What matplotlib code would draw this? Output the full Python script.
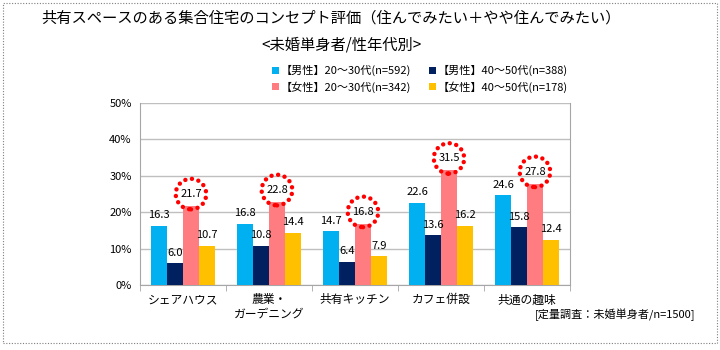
import matplotlib
matplotlib.use("Agg")
from matplotlib import pyplot as plt
from matplotlib.patches import Rectangle
import numpy as np

plt.rcParams['font.family'] = ['Noto Sans CJK JP', 'DejaVu Sans']

categories = ["シェアハウス", "農業・\nガーデニング", "共有キッチン", "カフェ併設", "共通の趣味"]
series_names = ["【男性】20～30代(n=592)", "【男性】40～50代(n=388)",
                "【女性】20～30代(n=342)", "【女性】40～50代(n=178)"]
male_young = [16.3, 16.8, 14.7, 22.6, 24.6]
male_old = [6.0, 10.8, 6.4, 13.6, 15.8]
female_young = [21.7, 22.8, 16.8, 31.5, 27.8]
female_old = [10.7, 14.4, 7.9, 16.2, 12.4]
colors = ["#00B0F0", "#002060", "#FF7C80", "#FFC000"]

title = "共有スペースのある集合住宅のコンセプト評価（住んでみたい＋やや住んでみたい）"
subtitle = "<未婚単身者/性年代別>"
source = "[定量調査：未婚単身者/n=1500]"

fig = plt.figure(figsize=(7.2, 3.5), dpi=100)
ax = fig.add_axes([140 / 720, 1 - 285 / 350, 430 / 720, 182 / 350])

x = np.arange(len(categories))
w = 0.186
data = [male_young, male_old, female_young, female_old]
handles = []
for i, vals in enumerate(data):
    pos = x + (i - 1.5) * w
    b = ax.bar(pos, vals, w, color=colors[i], label=series_names[i], zorder=3)
    handles.append(b)
    for p, v in zip(pos, vals):
        if i == 2:
            ax.annotate(f"{v:.1f}", (p, v), xytext=(0, 5), textcoords="offset points",
                        ha="center", va="bottom", fontsize=8, zorder=5,
                        bbox=dict(boxstyle="circle,pad=0.4", fc="none", ec="#FF0000",
                                  lw=3.2, ls=(0, (0.01, 1.5)), capstyle="round"))
        else:
            ax.annotate(f"{v:.1f}", (p, v), xytext=(0, 4), textcoords="offset points",
                        ha="center", va="bottom", fontsize=8, zorder=5)

ax.set_ylim(0, 50)
ax.set_xlim(-0.5, len(categories) - 0.5)
ax.set_yticks(np.arange(0, 51, 10))
ax.set_yticklabels([f"{t}%" for t in range(0, 51, 10)], fontsize=8)
ax.set_xticks(x)
ax.set_xticklabels(categories, fontsize=8.5, linespacing=1.1)
ax.set_xticks(np.arange(-0.5, len(categories), 1), minor=True)
ax.tick_params(axis="x", which="major", length=0, pad=6)
ax.tick_params(axis="x", which="minor", length=4, color="#A6A6A6")
ax.tick_params(axis="y", length=0, pad=6)
ax.yaxis.grid(True, color="#BFBFBF", lw=1, zorder=0)
for s in ["left", "right", "bottom"]:
    ax.spines[s].set_color("#A6A6A6")
ax.spines["top"].set_visible(False)

fig.text(331 / 720, 1 - 18 / 350, title, ha="center", va="center", fontsize=11)
fig.text(341 / 720, 1 - 45 / 350, subtitle, ha="center", va="center", fontsize=11)
fig.text(695 / 720, 1 - 315 / 350, source, ha="right", va="center", fontsize=8)

order = [0, 2, 1, 3]
fig.legend([handles[k] for k in order], [series_names[k] for k in order],
           ncol=2, loc="center", bbox_to_anchor=(420 / 720, 1 - 79 / 350),
           frameon=False, fontsize=8, handlelength=0.6, handleheight=0.6,
           handletextpad=0.2, columnspacing=1.6, labelspacing=0.45)

fig.patches.append(Rectangle((3 / 720, 7 / 350), 714 / 720, 340 / 350,
                             transform=fig.transFigure, fill=False,
                             ec="#7F7F7F", lw=0.8, ls=(0, (1, 1.5))))

fig.savefig("out.png", dpi=100)
